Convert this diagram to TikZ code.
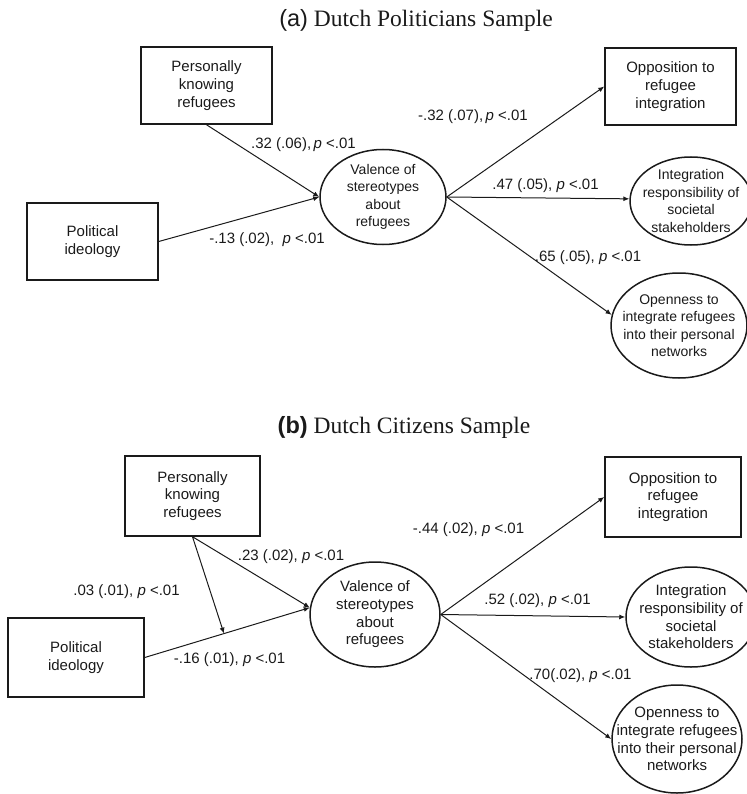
\documentclass[tikz,border=0pt]{standalone}
\usepackage{fontspec}
\setmainfont{Liberation Serif}
\setsansfont{Liberation Sans}
\usepackage{xcolor}
\definecolor{inkDark}{HTML}{1A1A1A}
\usepackage{tikz}
\usetikzlibrary{shapes.geometric,arrows.meta,positioning}
\tikzset{%
  varBox/.style={%
    rectangle,
    draw=inkDark,
    line width=1.5pt,
    minimum width=131pt,
    minimum height=77pt,
    align=center,
    text=inkDark,
    font=\sffamily\fontsize{15}{17.7}\selectfont
  },
  latentVar/.style={%
    ellipse,
    draw=inkDark,
    line width=1.5pt,
    inner sep=-25pt,
    align=center,
    text=inkDark,
    font=\sffamily\fontsize{15}{17.7}\selectfont
  },
  smallText/.style={%
    font=\sffamily\fontsize{14}{17.5}\selectfont
  },
  pathArrow/.style={%
    -{Latex[length=6pt,width=5pt]},
    line width=1pt,
    color=inkDark
  },
  coefLabel/.style={%
    text=inkDark,
    inner sep=0pt,
    font=\sffamily\fontsize{15}{17}\selectfont
  },
  panelTitle/.style={%
    text=inkDark,
    inner sep=0pt,
    font=\fontsize{23.5}{28}\selectfont
  }
}

\begin{document}
\begin{tikzpicture}[x=1pt,y=-1pt]
  \useasboundingbox (0,0) rectangle (746,794);

  % (a) politicians
  \node[panelTitle] (titleA) at (416,20) {{\sffamily (a)} Dutch Politicians Sample};
  \node[varBox] (knowA) at (206.5,85.5) {Personally\\knowing\\refugees};
  \node[varBox] (ideoA) at (92.5,241.5) {Political\\ideology};
  \node[latentVar, smallText, minimum width=126pt, minimum height=95pt] (valA) at (383,197) {Valence of\\stereotypes\\about\\refugees};
  \node[varBox] (oppA) at (670.5,86.5) {Opposition to\\refugee\\integration};
  \node[latentVar, smallText, minimum width=122pt, minimum height=88pt] (respA) at (691,201) {Integration\\responsibility of\\societal\\stakeholders};
  \node[latentVar, smallText, minimum width=136pt, minimum height=105pt] (openA) at (679,325.5) {Openness to\\integrate refugees\\into their personal\\networks};

  \draw[pathArrow] (knowA.south) -- (valA.west);
  \draw[pathArrow] (ideoA.east) -- (valA.west);
  \draw[pathArrow] (valA.east) -- (oppA.west);
  \draw[pathArrow] (valA.east) -- (respA.178);
  \draw[pathArrow] (valA.east) -- (openA.171);

  \node[coefLabel] (coefA1) at (303.5,145) {.32 (.06),\,\textit{p} <.01};
  \node[coefLabel] (coefA2) at (267,240) {-.13 (.02),\ \ \textit{p} <.01};
  \node[coefLabel] (coefA3) at (473,117) {-.32 (.07),\,\textit{p} <.01};
  \node[coefLabel] (coefA4) at (545.5,186) {.47 (.05), \textit{p} <.01};
  \node[coefLabel] (coefA5) at (588,258) {.65 (.05), \textit{p} <.01};

  % (b) citizens
  \node[panelTitle] (titleB) at (404,427) {{\sffamily\bfseries (b)} Dutch Citizens Sample};
  \node[varBox, minimum width=135pt, minimum height=80pt] (knowB) at (192.5,496) {Personally\\knowing\\refugees};
  \node[varBox, minimum width=136pt, minimum height=79pt] (ideoB) at (76,657.5) {Political\\ideology};
  \node[latentVar, minimum width=130pt, minimum height=105pt] (valB) at (375,614.5) {Valence of\\stereotypes\\about\\refugees};
  \node[varBox, minimum width=136pt, minimum height=80pt] (oppB) at (673,497) {Opposition to\\refugee\\integration};
  \node[latentVar, minimum width=130pt, minimum height=100pt] (respB) at (691,617) {Integration\\responsibility of\\societal\\stakeholders};
  \node[latentVar, minimum width=130pt, minimum height=108pt] (openB) at (677,739) {Openness to\\integrate refugees\\into their personal\\networks};

  \draw[pathArrow] (knowB.south) -- (valB.174);
  \draw[pathArrow] (ideoB.east) -- coordinate[pos=0.48] (modPoint) (valB.174);
  \draw[pathArrow] (knowB.south) -- (modPoint);
  \draw[pathArrow] (valB.east) -- (oppB.west);
  \draw[pathArrow] (valB.east) -- (respB.west);
  \draw[pathArrow] (valB.east) -- (openB.west);

  \node[coefLabel] (coefB1) at (291,557) {.23 (.02), \textit{p} <.01};
  \node[coefLabel] (coefB2) at (126.5,592) {.03 (.01), \textit{p} <.01};
  \node[coefLabel] (coefB3) at (229.5,660) {-.16 (.01), \textit{p} <.01};
  \node[coefLabel] (coefB4) at (468.5,530) {-.44 (.02), \textit{p} <.01};
  \node[coefLabel] (coefB5) at (537.5,601) {.52 (.02), \textit{p} <.01};
  \node[coefLabel] (coefB6) at (580.5,676) {.70(.02), \textit{p} <.01};
\end{tikzpicture}
\end{document}
